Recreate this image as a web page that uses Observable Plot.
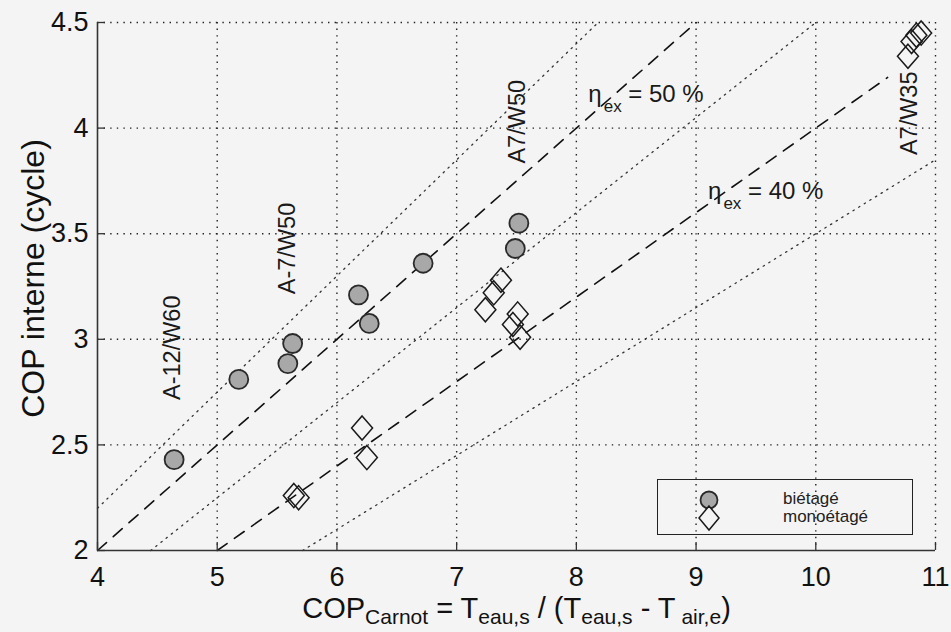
<!DOCTYPE html>
<html>
<head>
<meta charset="utf-8">
<script src="https://cdn.jsdelivr.net/npm/d3@7"></script>
<script src="https://cdn.jsdelivr.net/npm/@observablehq/plot@0.6"></script>
<style>
  html, body { margin: 0; padding: 0; background: #f4f4f4; }
  #wrap { position: relative; width: 951px; height: 632px; font-family: "Liberation Sans", Arial, sans-serif; }
  #legend { position: absolute; left: 657px; top: 479px; width: 256px; height: 56px; border: 1.5px solid #222; box-sizing: border-box; }
  #legend svg { position: absolute; left: 0; top: 0; }
  #legend .lbl { position: absolute; left: 125px; font-size: 17px; color: #222; line-height: 18px; }
</style>
</head>
<body>
<div id="wrap"></div>
<script>
// ---- data ----
const xTicks = [4, 5, 6, 7, 8, 9, 10, 11];
const yTicks = [2, 2.5, 3, 3.5, 4, 4.5];
const xDomain = [4, 11];
const yDomain = [2, 4.5];

// biétagé (circles)
const bietageX = [4.64, 5.18, 5.59, 5.63, 6.18, 6.27, 6.72, 7.49, 7.52];
const bietageY = [2.43, 2.81, 2.885, 2.98, 3.21, 3.075, 3.36, 3.43, 3.55];

// monoétagé (diamonds)
const monoX = [5.64, 5.68, 6.21, 6.25, 7.24, 7.31, 7.37, 7.47, 7.51, 7.53, 10.77, 10.80, 10.84, 10.88];
const monoY = [2.26, 2.25, 2.58, 2.44, 3.14, 3.22, 3.28, 3.07, 3.12, 3.01, 4.34, 4.41, 4.44, 4.45];

// iso-efficiency lines COP = eta * COP_Carnot
const dashedEta = [0.5, 0.4];
const dashedFrom = [4, 5];
const dashedTo = [9, 10.6];
const dottedEta = [0.55, 0.45, 0.35];
const dottedFrom = [4, 4.444, 5.714];
const dottedTo = [8.182, 10, 11];

// annotations
const condLabels = ["A-12/W60", "A-7/W50", "A7/W50", "A7/W35"];
const condX = [4.63, 5.59, 7.51, 10.78];
const condY = [2.96, 3.43, 4.03, 4.07];
const etaLabels = ["η_{ex} = 50 %", "η_{ex} = 40 %"];
const etaLabelX = [8.10, 9.10];
const etaLabelY = [4.16, 3.70];

const xTitle = "COP_{Carnot} = T_{eau,s} / (T_{eau,s} - T_{ air,e})";
const yTitle = "COP interne (cycle)";
const legendLabels = ["biétagé", "monoétagé"];

// ---- build tables ----
const bietage = bietageX.map((x, i) => ({x, y: bietageY[i]}));
const mono = monoX.map((x, i) => ({x, y: monoY[i]}));
const mkLines = (etas, from, to) => etas.flatMap((e, i) => [
  {id: i, x: from[i], y: e * from[i]},
  {id: i, x: to[i], y: e * to[i]}
]);
const dashed = mkLines(dashedEta, dashedFrom, dashedTo);
const dotted = mkLines(dottedEta, dottedFrom, dottedTo);
const conds = condLabels.map((t, i) => ({t, x: condX[i], y: condY[i]}));
const etas = etaLabels.map((t, i) => ({t, x: etaLabelX[i], y: etaLabelY[i]}));

const diamondSym = {
  draw(ctx, size) {
    const r = Math.sqrt(size / Math.PI);
    const h = r * 1.15;
    ctx.moveTo(0, -h);
    ctx.lineTo(r, 0);
    ctx.lineTo(0, h);
    ctx.lineTo(-r, 0);
    ctx.closePath();
  }
};

const W = 951, H = 632, mL = 97, mR = 16, mT = 22, mB = 82;
const frameW = W - mL - mR, frameH = H - mT - mB;
const dotDash = "1.4,5.2";

const chart = Plot.plot({
  width: W, height: H,
  marginLeft: mL, marginRight: mR, marginTop: mT, marginBottom: mB,
  style: {fontFamily: "'Liberation Sans', Arial, sans-serif", fontSize: "27px", background: "#f4f4f4", color: "#111", overflow: "visible"},
  x: {domain: xDomain, ticks: xTicks, tickSize: 0, tickPadding: 16, label: null, tickFormat: d => String(d)},
  y: {domain: yDomain, ticks: yTicks, tickSize: 0, tickPadding: 9, label: null, tickFormat: d => String(d)},
  marks: [
    Plot.ruleX(xTicks.slice(1), {stroke: "#222", strokeWidth: 1.4, strokeDasharray: dotDash}),
    Plot.ruleY(yTicks.slice(1), {stroke: "#222", strokeWidth: 1.4, strokeDasharray: dotDash}),
    Plot.line(dotted, {x: "x", y: "y", z: "id", stroke: "#333", strokeWidth: 1.3, strokeDasharray: dotDash}),
    Plot.line(dashed, {x: "x", y: "y", z: "id", stroke: "#111", strokeWidth: 1.6, strokeDasharray: "12,9"}),
    Plot.ruleX([xDomain[0]], {stroke: "#333", strokeWidth: 1.6}),
    Plot.ruleY([yDomain[0]], {stroke: "#333", strokeWidth: 1.6}),
    Plot.tickX(xTicks, {x: d => d, insetTop: frameH - 8, stroke: "#333", strokeWidth: 1.3}),
    Plot.tickY(yTicks, {y: d => d, insetRight: frameW - 8, stroke: "#333", strokeWidth: 1.3}),
    Plot.dot(bietage, {x: "x", y: "y", r: 9.5, fill: "#a8a8a8", stroke: "#2a2a2a", strokeWidth: 1.8}),
    Plot.dot(mono, {x: "x", y: "y", r: 10.5, symbol: diamondSym, fill: "none", stroke: "#1a1a1a", strokeWidth: 1.5}),
    Plot.text(conds, {x: "x", y: "y", text: "t", rotate: -90, fontSize: 23.5, fill: "#1a1a1a"}),
    Plot.text(etas, {x: "x", y: "y", text: "t", textAnchor: "start", fontSize: 24, fill: "#1a1a1a"}),
    Plot.text([xTitle], {frameAnchor: "bottom", text: d => d, textAnchor: "middle", lineAnchor: "bottom", dy: 67, fontSize: 29, fill: "#111"}),
    Plot.text([yTitle], {frameAnchor: "left", text: d => d, textAnchor: "middle", lineAnchor: "middle", rotate: -90, dx: -64, dy: -8, fontSize: 32, fill: "#111"})
  ]
});

const wrap = document.getElementById("wrap");
wrap.appendChild(chart);

// subscripts: "_{...}" -> lowered, smaller tspans
chart.querySelectorAll("text").forEach(t => {
  const s = t.textContent;
  if (!s.includes("_{")) return;
  const isEta = s.startsWith("η");
  const fs = parseFloat(getComputedStyle(t).fontSize);
  const sub = Math.round(fs * 0.72);
  const shift = Math.round(fs * (isEta ? 0.42 : 0.2));
  t.textContent = "";
  let lowered = false;
  for (const p of s.split(/(_\{[^}]*\})/)) {
    if (!p) continue;
    const ts = document.createElementNS("http://www.w3.org/2000/svg", "tspan");
    if (p.startsWith("_{")) {
      ts.textContent = p.slice(2, -1);
      ts.setAttribute("font-size", sub);
      ts.setAttribute("dy", shift);
      if (isEta) ts.setAttribute("dx", 2);
      lowered = true;
    } else {
      ts.textContent = p;
      if (lowered) ts.setAttribute("dy", -shift);
      lowered = false;
    }
    ts.setAttribute("style", "white-space: pre");
    t.appendChild(ts);
  }
});

// legend (inside plot area, like the original)
const leg = document.createElement("div");
leg.id = "legend";
leg.innerHTML = `
  <svg width="256" height="56">
    <circle cx="51" cy="20" r="8.5" fill="#a8a8a8" stroke="#2a2a2a" stroke-width="1.8"></circle>
    <path d="M51,26 L61,38 L51,50 L41,38 Z" fill="#f4f4f4" stroke="#1a1a1a" stroke-width="1.5"></path>
  </svg>
  <div class="lbl" style="top:10px">${legendLabels[0]}</div>
  <div class="lbl" style="top:28px">${legendLabels[1]}</div>`;
wrap.appendChild(leg);
</script>
</body>
</html>
